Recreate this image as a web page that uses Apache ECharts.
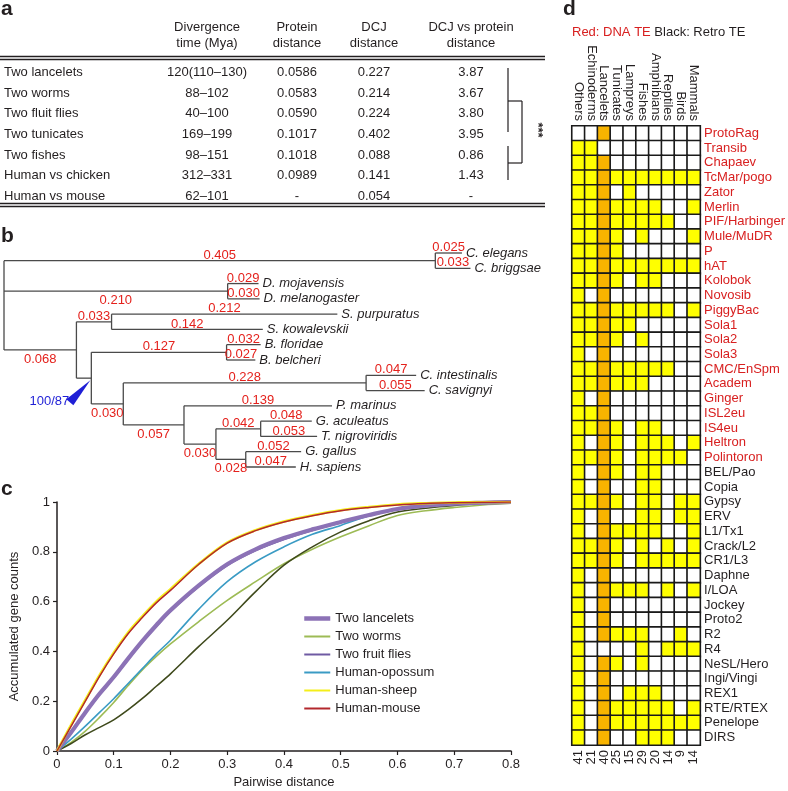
<!DOCTYPE html>
<html><head><meta charset="utf-8">
<script src="https://cdn.jsdelivr.net/npm/echarts@6/dist/echarts.min.js"></script>
<style>html,body{margin:0;padding:0;background:#fff}#c{width:788px;height:791px}</style>
</head><body><div id="c"></div>
<script>
const FONT = '"Liberation Sans", Arial, Helvetica, sans-serif';
const INK = '#231f20';
const RED = '#e4211c';

// ---------- panel a : table ----------
const tableHeads = [['Divergence', 'time (Mya)'], ['Protein', 'distance'], ['DCJ', 'distance'], ['DCJ vs protein', 'distance']];
const tableRows = ['Two lancelets', 'Two worms', 'Two fluit flies', 'Two tunicates', 'Two fishes', 'Human vs chicken', 'Human vs mouse'];
const divTime = ['120(110\u2013130)', '88\u2013102', '40\u2013100', '169\u2013199', '98\u2013151', '312\u2013331', '62\u2013101'];
const proteinDist = ['0.0586', '0.0583', '0.0590', '0.1017', '0.1018', '0.0989', '-'];
const dcjDist = ['0.227', '0.214', '0.224', '0.402', '0.088', '0.141', '0.054'];
const dcjRatio = ['3.87', '3.67', '3.80', '3.95', '0.86', '1.43', '-'];
const signif = '***';

// ---------- panel b : tree (branch lengths) ----------
const tree = {id: 'root', c: [
  {id: 'nem', len: 0.405, c: [{name: 'C. elegans', len: 0.025}, {name: 'C. briggsae', len: 0.033}]},
  {id: 'dros', len: 0.210, c: [{name: 'D. mojavensis', len: 0.029}, {name: 'D. melanogaster', len: 0.030}]},
  {id: 'deut', len: 0.068, c: [
    {id: 'amb', len: 0.033, c: [{name: 'S. purpuratus', len: 0.212}, {name: 'S. kowalevskii', len: 0.142}]},
    {id: 'chord', len: 0.014, c: [
      {id: 'lanc', len: 0.127, c: [{name: 'B. floridae', len: 0.032}, {name: 'B. belcheri', len: 0.027}]},
      {id: 'olf', len: 0.030, c: [
        {id: 'tun', len: 0.228, c: [{name: 'C. intestinalis', len: 0.047}, {name: 'C. savignyi', len: 0.055}]},
        {id: 'vert', len: 0.057, c: [
          {name: 'P. marinus', len: 0.139},
          {id: 'gnath', len: 0.030, c: [
            {id: 'fish', len: 0.042, c: [{name: 'G. aculeatus', len: 0.048}, {name: 'T. nigroviridis', len: 0.053}]},
            {id: 'amn', len: 0.028, c: [{name: 'G. gallus', len: 0.052}, {name: 'H. sapiens', len: 0.047}]}
          ]}
        ]}
      ]}
    ]}
  ]}
]};
const unlabeledBranches = ['chord'];
const labelsBelow = ['dros', 'deut', 'olf', 'vert', 'gnath', 'amn'];
const supportNode = 'chord';
const supportText = '100/87';

// ---------- panel c : cumulative curves ----------
const distX = [0, 0.025, 0.05, 0.075, 0.1, 0.125, 0.15, 0.175, 0.2, 0.25, 0.3, 0.35, 0.4, 0.45, 0.5, 0.55, 0.6, 0.65, 0.7, 0.75, 0.8];
const lanceletsY = [0, 0.075, 0.155, 0.23, 0.297, 0.37, 0.44, 0.505, 0.565, 0.665, 0.75, 0.81, 0.855, 0.89, 0.92, 0.948, 0.972, 0.985, 0.993, 0.997, 1];
const wormsY = [0, 0.035, 0.08, 0.135, 0.195, 0.262, 0.325, 0.38, 0.43, 0.52, 0.605, 0.68, 0.752, 0.81, 0.86, 0.905, 0.946, 0.965, 0.978, 0.988, 0.995];
const fliesY = [0, 0.073, 0.152, 0.226, 0.293, 0.366, 0.436, 0.5, 0.56, 0.66, 0.745, 0.805, 0.85, 0.886, 0.917, 0.945, 0.97, 0.984, 0.992, 0.997, 1];
const opossumY = [0, 0.048, 0.1, 0.155, 0.21, 0.27, 0.33, 0.39, 0.445, 0.57, 0.68, 0.76, 0.82, 0.87, 0.906, 0.945, 0.973, 0.985, 0.993, 0.997, 1];
const sheepY = [0, 0.105, 0.205, 0.305, 0.395, 0.475, 0.54, 0.6, 0.65, 0.752, 0.837, 0.887, 0.922, 0.947, 0.967, 0.98, 0.99, 0.995, 0.998, 1, 1];
const mouseY = [0, 0.1, 0.2, 0.3, 0.39, 0.47, 0.535, 0.595, 0.645, 0.75, 0.835, 0.885, 0.92, 0.945, 0.965, 0.978, 0.988, 0.994, 0.997, 0.999, 1];
const darkY = [0, 0.03, 0.065, 0.095, 0.125, 0.165, 0.21, 0.26, 0.31, 0.42, 0.525, 0.64, 0.746, 0.82, 0.88, 0.925, 0.96, 0.975, 0.986, 0.994, 0.998];
const legendNames = ['Two lancelets', 'Two worms', 'Two fruit flies', 'Human-opossum', 'Human-sheep', 'Human-mouse'];

// ---------- panel d : TE presence ----------
const teGroups = ['Others', 'Echinoderms', 'Lancelets', 'Tunicates', 'Lampreys', 'Fishes', 'Amphibians', 'Reptiles', 'Birds', 'Mammals'];
const teCounts = ['41', '21', '40', '25', '15', '29', '20', '14', '9', '14'];
const teNames = ['ProtoRag', 'Transib', 'Chapaev', 'TcMar/pogo', 'Zator', 'Merlin', 'PIF/Harbinger', 'Mule/MuDR', 'P', 'hAT', 'Kolobok', 'Novosib', 'PiggyBac', 'Sola1', 'Sola2', 'Sola3', 'CMC/EnSpm', 'Academ', 'Ginger', 'ISL2eu', 'IS4eu', 'Heltron', 'Polintoron',
  'BEL/Pao', 'Copia', 'Gypsy', 'ERV', 'L1/Tx1', 'Crack/L2', 'CR1/L3', 'Daphne', 'I/LOA', 'Jockey', 'Proto2', 'R2', 'R4', 'NeSL/Hero', 'Ingi/Vingi', 'REX1', 'RTE/RTEX', 'Penelope', 'DIRS'];
const dnaTeCount = 23;
const tePresence = [
  '0010000000', '1100000000', '1110000000', '1111111111', '1110100000', '1111111001', '1111111100', '1111010001', '1111000000', '1111111111',
  '1111011000', '1010000000', '1111111101', '1111100000', '1111010000', '1010000000', '1111111100', '1111110000', '1010000000', '1110000000',
  '1111011000', '1011011101', '1111011110',
  '1011011000', '1010011000', '1111011011', '1010011011', '1011111001', '1111010101', '1111011111', '1010000000', '1011110101', '1010000000',
  '1010000000', '1011110010', '1000010111', '1011010000', '1010000000', '1010111000', '1011111101', '1011111111', '1010011100'];
const highlightGroup = 'Lancelets';

// ================= build =================
const chart = echarts.init(document.getElementById('c'), null, {renderer: 'canvas'});

let leafCounter = 0;
const treeSegs = [], treeLabs = [], treeLeaves = [];
let supportPos = null;
function layoutTree(node, px) {
  const x = px + (node.len || 0);
  let y;
  if (node.c) {
    const ys = node.c.map(ch => layoutTree(ch, x));
    y = (ys[0] + ys[ys.length - 1]) / 2;
    treeSegs.push([x, ys[0], x, ys[ys.length - 1]]);
  } else {
    y = leafCounter++;
    treeLeaves.push({value: [x, y], name: node.name});
  }
  if (node.len) {
    treeSegs.push([px, y, x, y]);
    if (!unlabeledBranches.includes(node.id)) {
      treeLabs.push({value: [(px + x) / 2, y], name: node.len.toFixed(3), below: labelsBelow.includes(node.id)});
    }
  }
  if (node.id === supportNode) supportPos = [x, y];
  return y;
}
layoutTree(tree, 0);

const g = [];
function T(x, y, text, opt) {
  g.push(Object.assign({type: 'text', x: x, y: y, silent: true,
    style: Object.assign({text: text, font: '13px ' + FONT, fill: INK, align: 'center', verticalAlign: 'middle'}, opt || {})}));
}
function L(x1, y1, x2, y2, w) {
  g.push({type: 'line', silent: true, shape: {x1, y1, x2, y2}, style: {stroke: INK, lineWidth: w || 1}});
}
T(1, 9, 'a', {font: 'bold 21px ' + FONT, align: 'left'});
T(1, 236, 'b', {font: 'bold 21px ' + FONT, align: 'left'});
T(1, 489, 'c', {font: 'bold 21px ' + FONT, align: 'left'});
T(563, 9, 'd', {font: 'bold 21px ' + FONT, align: 'left'});
const colX = [207, 297, 374, 471];
tableHeads.forEach((h, i) => { T(colX[i], 27, h[0]); T(colX[i], 43, h[1]); });
L(0, 56.5, 545, 56.5, 1.3); L(0, 59.5, 545, 59.5, 1.3);
L(0, 203.5, 545, 203.5, 1.3); L(0, 206.5, 545, 206.5, 1.3);
const rowY = [72, 93, 113, 134, 155, 175, 196];
tableRows.forEach((r, i) => {
  T(4, rowY[i], r, {align: 'left'});
  T(colX[0], rowY[i], divTime[i]);
  T(colX[1], rowY[i], proteinDist[i]);
  T(colX[2], rowY[i], dcjDist[i]);
  T(colX[3], rowY[i], dcjRatio[i]);
});
L(508, 68, 508, 132, 1.2); L(508, 101, 522, 101, 1.2);
L(508, 146, 508, 180, 1.2); L(508, 163, 522, 163, 1.2);
L(522, 101, 522, 163, 1.2);
g.push({type: 'text', x: 538, y: 130, rotation: -Math.PI / 2, silent: true,
  style: {text: signif, font: 'bold 13px ' + FONT, fill: INK, align: 'center', verticalAlign: 'middle'}});
g.push({type: 'text', x: 572, y: 32, silent: true,
  style: {text: '{r|Red: DNA TE} Black: Retro TE', font: '13px ' + FONT, fill: INK, align: 'left', verticalAlign: 'middle',
    rich: {r: {fill: '#d82020', font: '13px ' + FONT}}}});

const hiIdx = teGroups.indexOf(highlightGroup);
const heatData = [];
tePresence.forEach((row, r) => {
  for (let c = 0; c < teGroups.length; c++) {
    const v = +row[c];
    heatData.push([c, r, v && c === hiIdx ? 2 : v]);
  }
});

const lineBase = {type: 'line', xAxisIndex: 1, yAxisIndex: 1, showSymbol: false, symbol: 'none', smooth: 0.35, silent: true, z: 3};
const mk = (name, ys, color, width, z) => Object.assign({}, lineBase, {
  name, data: distX.map((x, i) => [x, ys[i]]), lineStyle: {color, width}, itemStyle: {color}, z: z || 3});

const series = [
  {type: 'custom', coordinateSystem: 'cartesian2d', xAxisIndex: 0, yAxisIndex: 0, silent: true,
    data: treeSegs, encode: {x: [0, 2], y: [1, 3]},
    renderItem: (p, api) => {
      const a = api.coord([api.value(0), api.value(1)]);
      const b = api.coord([api.value(2), api.value(3)]);
      return {type: 'line', shape: {x1: a[0], y1: a[1], x2: b[0], y2: b[1]}, style: {stroke: '#4a4a4a', lineWidth: 1.3}};
    }},
  {type: 'custom', coordinateSystem: 'cartesian2d', xAxisIndex: 0, yAxisIndex: 0, silent: true,
    data: treeLabs.map(l => l.value),
    renderItem: (p, api) => {
      const l = treeLabs[p.dataIndex];
      const a = api.coord([api.value(0), api.value(1)]);
      return {type: 'text', x: a[0], y: l.below ? a[1] + 3 : a[1] + 1,
        style: {text: l.name, font: '13px ' + FONT, fill: RED, align: 'center', verticalAlign: l.below ? 'top' : 'bottom'}};
    }},
  {type: 'custom', coordinateSystem: 'cartesian2d', xAxisIndex: 0, yAxisIndex: 0, silent: true,
    data: treeLeaves.map(l => l.value),
    renderItem: (p, api) => {
      const a = api.coord([api.value(0), api.value(1)]);
      return {type: 'text', x: a[0] + 4, y: a[1],
        style: {text: treeLeaves[p.dataIndex].name, font: 'italic 13px ' + FONT, fill: INK, align: 'left', verticalAlign: 'middle'}};
    }},
  {type: 'custom', coordinateSystem: 'cartesian2d', xAxisIndex: 0, yAxisIndex: 0, silent: true,
    data: [supportPos],
    renderItem: (p, api) => {
      const a = api.coord([api.value(0), api.value(1)]);
      return {type: 'group', children: [
        {type: 'polygon', shape: {points: [[a[0] - 1, a[1] + 2], [a[0] - 18, a[1] + 27], [a[0] - 25, a[1] + 21]]}, style: {fill: '#1f1fd6'}},
        {type: 'text', x: a[0] - 22, y: a[1] + 23, style: {text: supportText, font: '13px ' + FONT, fill: '#1f1fd6', align: 'right', verticalAlign: 'middle'}}
      ]};
    }},
  mk('Two worms', wormsY, '#9dbb55', 1.6),
  mk('', darkY, '#3f4a1c', 1.6),
  mk('Human-opossum', opossumY, '#3a9bc4', 1.6),
  mk('Two fruit flies', fliesY, '#6f5aa3', 1.8),
  mk('Two lancelets', lanceletsY, '#8c72b6', 4.2, 4),
  mk('Human-sheep', sheepY, '#f4ee1a', 2.6, 5),
  mk('Human-mouse', mouseY, '#b3282d', 1.5, 6),
  {type: 'heatmap', xAxisIndex: 2, yAxisIndex: 2, data: heatData, silent: true,
    itemStyle: {borderColor: '#1a1a1a', borderWidth: 1.6}, emphasis: {disabled: true}}
];
const heatIdx = series.length - 1;

const option = {
  animation: false,
  backgroundColor: '#fff',
  textStyle: {fontFamily: FONT},
  graphic: g,
  grid: [
    {left: 4, top: 253, width: 511.2, height: 214},
    {left: 54, top: 502, width: 457, height: 249},
    {left: 572, top: 126, width: 131, height: 619}
  ],
  xAxis: [
    {gridIndex: 0, type: 'value', min: 0, max: 0.48, show: false},
    {gridIndex: 1, type: 'value', min: 0, max: 0.8, interval: 0.1,
      axisLine: {lineStyle: {color: INK, width: 1.5}}, axisTick: {length: 4, lineStyle: {color: INK, width: 1.2}},
      splitLine: {show: false}, axisLabel: {color: INK, fontSize: 13, margin: 7, fontFamily: FONT},
      name: 'Pairwise distance', nameLocation: 'middle', nameGap: 25, nameTextStyle: {color: INK, fontSize: 13, fontFamily: FONT}},
    {gridIndex: 2, type: 'category', position: 'top', data: teGroups,
      axisLine: {show: false}, axisTick: {show: false},
      axisLabel: {rotate: 90, fontSize: 13, color: INK, margin: 5, fontFamily: FONT, interval: 0}},
    {gridIndex: 2, type: 'category', position: 'bottom', data: teGroups,
      axisLine: {show: false}, axisTick: {show: false},
      axisLabel: {rotate: 90, fontSize: 13, color: INK, margin: 5, fontFamily: FONT, interval: 0, formatter: (v, i) => teCounts[i]}}
  ],
  yAxis: [
    {gridIndex: 0, type: 'value', min: 0, max: 14, inverse: true, show: false},
    {gridIndex: 1, type: 'value', min: 0, max: 1, interval: 0.2,
      axisLine: {show: true, lineStyle: {color: INK, width: 1.5}}, axisTick: {show: true, length: 4, lineStyle: {color: INK, width: 1.2}},
      splitLine: {show: false}, axisLabel: {color: INK, fontSize: 13, margin: 7, fontFamily: FONT},
      name: 'Accumulated gene counts', nameLocation: 'middle', nameGap: 34, nameTextStyle: {color: INK, fontSize: 13, fontFamily: FONT}},
    {gridIndex: 2, type: 'category', position: 'right', inverse: true, data: teNames,
      axisLine: {show: false}, axisTick: {show: false},
      axisLabel: {fontSize: 13, margin: 4, fontFamily: FONT, interval: 0,
        color: (v) => (teNames.indexOf(v) < dnaTeCount ? '#d82020' : INK)}}
  ],
  legend: {
    data: legendNames.map((n, i) => ({name: n, lineStyle: {width: i === 0 ? 4.5 : 2}})),
    orient: 'vertical', left: 297, top: 607, itemWidth: 26, itemHeight: 14, itemGap: 5,
    textStyle: {fontSize: 13, color: INK, fontFamily: FONT}, selectedMode: false,
    itemStyle: {opacity: 0, borderWidth: 0}
  },
  visualMap: {type: 'piecewise', show: false, dimension: 2, seriesIndex: heatIdx,
    pieces: [{value: 0, color: '#ffffff'}, {value: 1, color: '#ffff00'}, {value: 2, color: '#f8b400'}]},
  series: series
};
chart.setOption(option);
</script>
</body></html>
